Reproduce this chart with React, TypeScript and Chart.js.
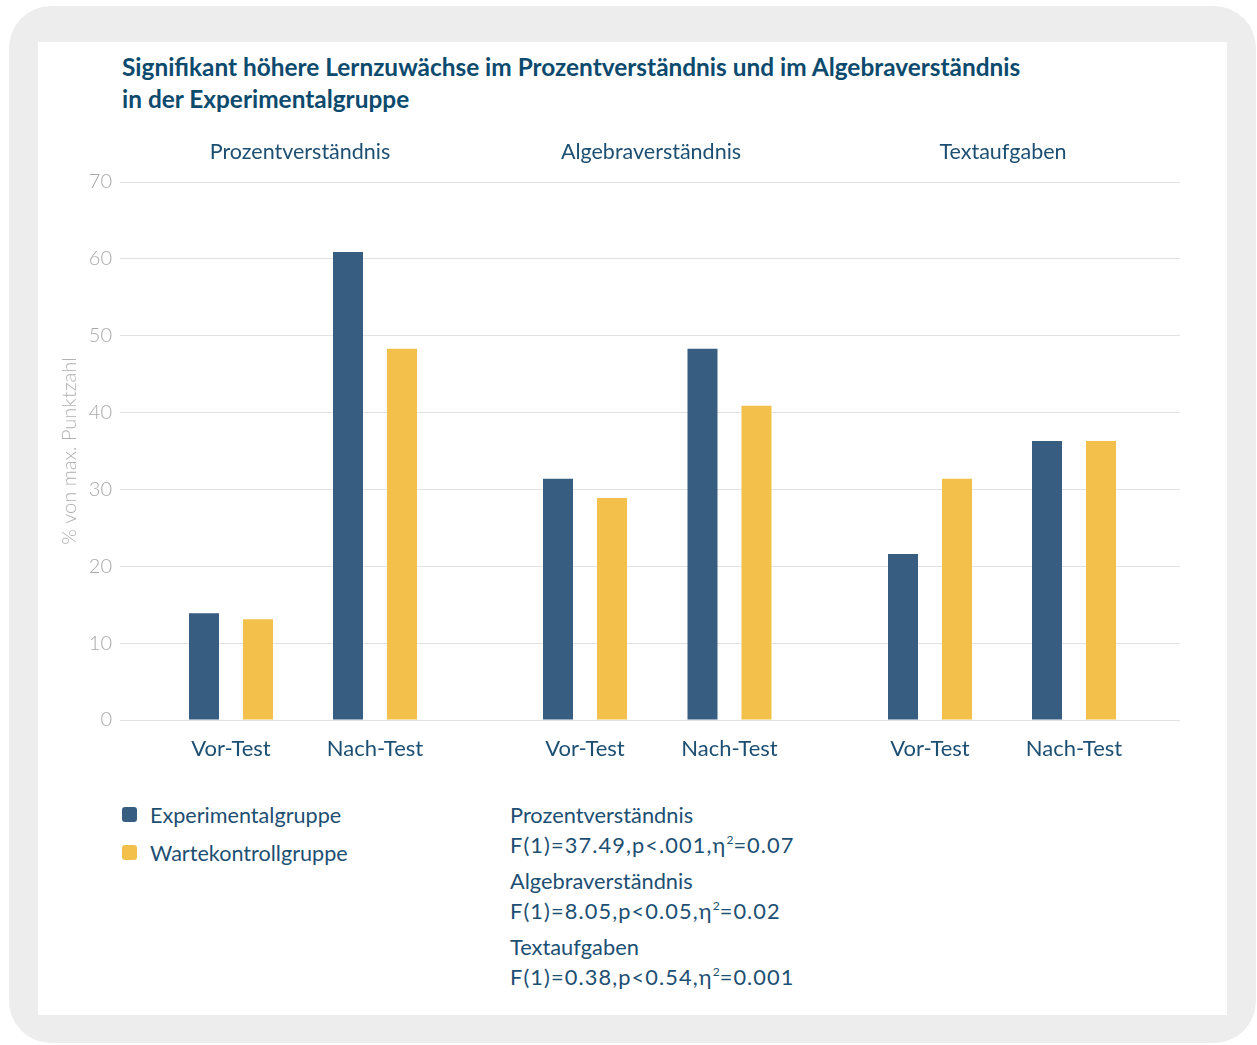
import React, { useEffect, useRef } from 'react';
import { Chart, registerables } from 'chart.js';
Chart.register(...registerables);

// ---- data ----
const groups = ['Prozentverständnis', 'Algebraverständnis', 'Textaufgaben'];
const phases = ['Vor-Test', 'Nach-Test'];
const seriesNames = ['Experimentalgruppe', 'Wartekontrollgruppe'];
const experimental = [13.9, 60.9, 31.4, 48.3, 21.6, 36.3];
const kontroll = [13.1, 48.3, 28.9, 40.9, 31.4, 36.3];
const yMin = 0;
const yMax = 70;
const yStep = 10;
const yTitle = '% von max. Punktzahl';
const titleLines = [
  'Signifikant höhere Lernzuwächse im Prozentverständnis und im Algebraverständnis',
  'in der Experimentalgruppe',
];
const statNames = ['Prozentverständnis', 'Algebraverständnis', 'Textaufgaben'];
const statF = ['0.07', '0.02', '0.001'];
const statPre = ['F(1)=37.49,p<.001,η', 'F(1)=8.05,p<0.05,η', 'F(1)=0.38,p<0.54,η'];

// ---- layout (pixel-unit positions along x axis) ----
const X_MAX = 1060;
const SLOT_X = [111, 255, 465, 609.5, 810, 954];
const GROUP_X = [180, 531, 883];

const FONT = 'Lato, "Open Sans", sans-serif';
const TEXT = '#1d4f73';
const TITLE = '#0c4a6e';
const DARK = '#375e80';
const YELLOW = '#f2c04b';

export default function App() {
  const ref = useRef<HTMLCanvasElement>(null);
  useEffect(() => {
    if (!ref.current) return;
    const slotLabels = SLOT_X.map((_, i) => phases[i % 2]);
    const chart = new Chart(ref.current, {
      type: 'bar',
      data: {
        datasets: [
          {
            label: seriesNames[0],
            data: experimental.map((v, i) => ({ x: SLOT_X[i], y: v })),
            backgroundColor: DARK,
            categoryPercentage: 0.75,
            barPercentage: 30 / 54,
          },
          {
            label: seriesNames[1],
            data: kontroll.map((v, i) => ({ x: SLOT_X[i], y: v })),
            backgroundColor: YELLOW,
            categoryPercentage: 0.75,
            barPercentage: 30 / 54,
          },
        ],
      },
      options: {
        responsive: false,
        animation: false,
        devicePixelRatio: 1,
        layout: { padding: { left: 0, right: 47, top: 0, bottom: 0 } },
        plugins: { legend: { display: false }, tooltip: { enabled: false } },
        scales: {
          x: {
            type: 'linear',
            min: 0,
            max: X_MAX,
            offset: false,
            position: 'bottom',
            grid: { display: false, drawTicks: false, offset: false },
            border: { display: false },
            afterBuildTicks: (s: any) => {
              s.ticks = SLOT_X.map((v) => ({ value: v }));
            },
            afterFit: (s: any) => {
              s.height = 60;
            },
            ticks: {
              autoSkip: false,
              maxRotation: 0,
              padding: 16,
              color: TEXT,
              font: { family: FONT, size: 22 },
              callback: (_v: any, i: number) => slotLabels[i],
            },
          },
          x2: {
            type: 'linear',
            min: 0,
            max: X_MAX,
            offset: false,
            position: 'top',
            grid: { display: false, drawTicks: false, offset: false },
            border: { display: false },
            afterBuildTicks: (s: any) => {
              s.ticks = GROUP_X.map((v) => ({ value: v }));
            },
            afterFit: (s: any) => {
              s.height = 52;
            },
            ticks: {
              autoSkip: false,
              maxRotation: 0,
              padding: 17,
              color: TEXT,
              font: { family: FONT, size: 21.5 },
              callback: (_v: any, i: number) => groups[i],
            },
          },
          y: {
            min: yMin,
            max: yMax,
            afterFit: (s: any) => {
              s.width = 82;
            },
            grid: { color: '#e2e2e2', lineWidth: 1, drawTicks: false },
            border: { display: false },
            ticks: {
              stepSize: yStep,
              padding: 8,
              color: '#a9a9a9',
              font: { family: FONT, size: 20, weight: 300 },
            },
            title: {
              display: true,
              text: yTitle,
              color: '#b0b0b0',
              padding: { top: 20, bottom: 0 },
              font: { family: FONT, size: 20, weight: 300 },
            },
          },
        },
      },
    } as any);
    return () => chart.destroy();
  }, []);

  return (
    <div style={{ fontFamily: FONT }}>
      <div
        style={{
          position: 'absolute',
          left: 9,
          top: 6,
          width: 1247,
          height: 1037,
          background: '#ecedec',
          borderRadius: 42,
        }}
      />
      <div
        style={{
          position: 'absolute',
          left: 38,
          top: 42,
          width: 1189,
          height: 973,
          background: '#ffffff',
        }}
      >
        <div
          style={{
            position: 'absolute',
            left: 84,
            top: 9,
            fontSize: 24.4,
            lineHeight: '32px',
            fontWeight: 700,
            color: TITLE,
            whiteSpace: 'nowrap',
          }}
        >
          {titleLines[0]}
          <br />
          {titleLines[1]}
        </div>
        <canvas
          ref={ref}
          width={1189}
          height={650}
          style={{ position: 'absolute', left: 0, top: 88, width: 1189, height: 650 }}
        />
        {seriesNames.map((n, i) => (
          <div key={n}>
            <div
              style={{
                position: 'absolute',
                left: 84,
                top: 765 + i * 38,
                width: 15,
                height: 15,
                borderRadius: 3,
                background: i === 0 ? DARK : YELLOW,
              }}
            />
            <div
              style={{
                position: 'absolute',
                left: 112,
                top: 758 + i * 38,
                fontSize: 21.6,
                lineHeight: '30px',
                color: TEXT,
                whiteSpace: 'nowrap',
              }}
            >
              {n}
            </div>
          </div>
        ))}
        {statNames.map((n, i) => (
          <div key={n}>
            <div
              style={{
                position: 'absolute',
                left: 472,
                top: 758 + i * 66,
                fontSize: 21.8,
                lineHeight: '30px',
                color: TEXT,
                whiteSpace: 'nowrap',
              }}
            >
              {n}
            </div>
            <div
              style={{
                position: 'absolute',
                left: 472,
                top: 788 + i * 66,
                fontSize: 21.8,
                lineHeight: '30px',
                height: 30,
                color: TEXT,
                letterSpacing: 1.1,
                whiteSpace: 'nowrap',
              }}
            >
              {statPre[i]}
              <span style={{ fontSize: 12, position: 'relative', top: -9, letterSpacing: 0 }}>2</span>
              {'=' + statF[i]}
            </div>
          </div>
        ))}
      </div>
    </div>
  );
}
